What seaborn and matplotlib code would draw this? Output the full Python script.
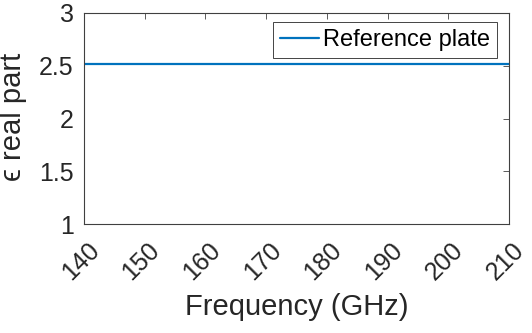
import numpy as np
import pandas as pd
import matplotlib
matplotlib.use("Agg")
import matplotlib.pyplot as plt
import matplotlib.transforms as mtrans
import seaborn as sns

freq = [140, 150, 160, 170, 180, 190, 200, 210]
eps_real = [2.52, 2.52, 2.52, 2.52, 2.52, 2.52, 2.52, 2.52]
series_name = "Reference plate"
xticks = [140, 150, 160, 170, 180, 190, 200, 210]
yticks = [1, 1.5, 2, 2.5, 3]
ytick_labels = ["1", "1.5", "2", "2.5", "3"]

sns.set_theme(style="white")
plt.rcParams['font.family'] = ['Liberation Sans', 'DejaVu Sans']

df = pd.DataFrame({"Frequency": freq, "eps": eps_real, "series": series_name})

W, H = 532, 333
fig = plt.figure(figsize=(W / 100, H / 100), dpi=100)
ax = fig.add_axes([84 / W, 1 - 224 / H, (509 - 84) / W, (224 - 13) / H])
sns.lineplot(data=df, x="Frequency", y="eps", hue="series", palette=["#0072BD"],
             linewidth=1.6, ax=ax)

ax.set_xlim(140, 210)
ax.set_ylim(1, 3)
ax.set_xticks(xticks)
ax.set_yticks(yticks)
ax.set_yticklabels(ytick_labels)
tc = "#262626"
ax.tick_params(direction="in", length=4, width=0.6, colors="#404040",
               labelcolor=tc, labelsize=18, top=True, right=True)
ax.tick_params(axis="y", pad=7.5)
ax.tick_params(axis="x", pad=26.5)
shift = mtrans.ScaledTranslation(-3.5 / 100, 0, fig.dpi_scale_trans)
for lbl in ax.get_xticklabels():
    lbl.set_rotation(45)
    lbl.set_ha("center")
    lbl.set_va("center")
    lbl.set_rotation_mode("anchor")
    lbl.set_transform(lbl.get_transform() + shift)
for s in ax.spines.values():
    s.set_color("#404040")
    s.set_linewidth(0.8)
ax.set_xlabel("Frequency (GHz)", fontsize=21, color=tc, va="top")
ax.xaxis.set_label_coords(0.5, -0.327)
ax.set_ylabel("\u03f5 real part", fontsize=21, color=tc, va="bottom")
ax.yaxis.set_label_coords(-0.134, 0.509)

leg = ax.legend(loc="upper right", bbox_to_anchor=(497 / W, 1 - 22 / H),
                bbox_transform=fig.transFigure, borderaxespad=0,
                fontsize=17, frameon=True, fancybox=False,
                borderpad=0.3, handlelength=1.65, handletextpad=0.15)
leg.get_frame().set_edgecolor("#262626")
leg.get_frame().set_linewidth(0.6)
leg.get_frame().set_alpha(1)
for t in leg.get_texts():
    t.set_color("black")

fig.savefig("out.png", dpi=100)
